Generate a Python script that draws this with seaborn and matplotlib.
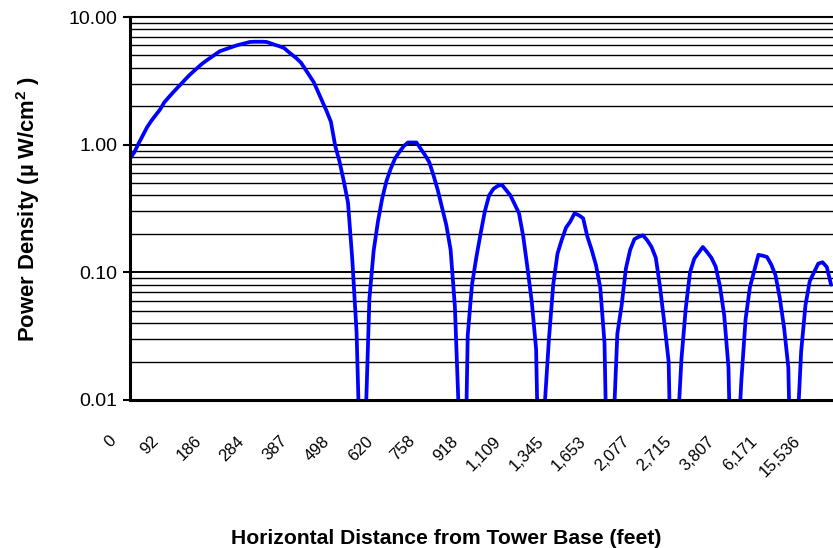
import seaborn as sns
import pandas as pd
import matplotlib.pyplot as plt
import matplotlib.transforms as mtransforms
from matplotlib.ticker import LogLocator, NullFormatter

# category axis: one label every 10 samples
distance_labels = ["0", "92", "186", "284", "387", "498", "620", "758", "918",
                   "1,109", "1,345", "1,653", "2,077", "2,715", "3,807",
                   "6,171", "15,536"]
label_step = 10

# power density (uW/cm2), one value per sample
power_density = [
    0.78, 0.87, 1.02, 1.18, 1.37, 1.54, 1.70, 1.88, 2.14, 2.34,
    2.55, 2.77, 3.00, 3.26, 3.53, 3.79, 4.06, 4.34, 4.59, 4.84,
    5.11, 5.39, 5.54, 5.69, 5.84, 6.00, 6.12, 6.24, 6.37, 6.40,
    6.40, 6.40, 6.37, 6.20, 6.04, 5.89, 5.73, 5.36, 5.03, 4.73,
    4.39, 3.90, 3.47, 3.08, 2.59, 2.18, 1.83, 1.51, 0.98, 0.74,
    0.52, 0.35, 0.126, 0.034, 0.002, 0.005, 0.062, 0.148, 0.25, 0.38,
    0.52, 0.65, 0.78, 0.875, 0.97, 1.04, 1.04, 1.04, 0.93, 0.83,
    0.73, 0.575, 0.44, 0.32, 0.234, 0.15, 0.054, 0.0065, 0.0004, 0.032,
    0.08, 0.13, 0.20, 0.30, 0.40, 0.45, 0.475, 0.485, 0.44, 0.40,
    0.34, 0.29, 0.19, 0.107, 0.058, 0.025, 0.0005, 0.009, 0.03, 0.08,
    0.14, 0.18, 0.224, 0.25, 0.29, 0.28, 0.265, 0.19, 0.15, 0.114,
    0.076, 0.028, 0.0005, 0.005, 0.033, 0.055, 0.107, 0.15, 0.182, 0.19,
    0.195, 0.178, 0.158, 0.13, 0.076, 0.04, 0.02, 0.0005, 0.005, 0.021,
    0.052, 0.10, 0.128, 0.142, 0.158, 0.144, 0.13, 0.111, 0.078, 0.046,
    0.018, 0.0005, 0.003, 0.014, 0.043, 0.076, 0.102, 0.137, 0.135, 0.132,
    0.115, 0.095, 0.063, 0.037, 0.018, 0.0005, 0.005, 0.024, 0.055, 0.085,
    0.10, 0.117, 0.12, 0.11, 0.08,
]

df = pd.DataFrame({"sample": range(len(power_density)), "power": power_density})

sns.set_style("white")
plt.rcParams['font.family'] = ['Liberation Sans', 'DejaVu Sans']
plt.rcParams['text.color'] = 'black'
plt.rcParams['xtick.color'] = 'black'
plt.rcParams['ytick.color'] = 'black'
plt.rcParams['mathtext.fontset'] = 'custom'
plt.rcParams['mathtext.bf'] = 'Liberation Sans:bold'
plt.rcParams['mathtext.rm'] = 'Liberation Sans:bold'

fig = plt.figure(figsize=(8.33, 5.48), dpi=100)
ax = fig.add_axes([130 / 833, 148 / 548, 703 / 833, 383 / 548])

sns.lineplot(data=df, x="sample", y="power", color="#0000FF", linewidth=2.7,
             estimator=None, ax=ax)
ax.set_yscale("log")
ax.set_ylim(0.01, 10)
ax.set_xlim(0, 164.45)

# gridlines at every log tick
ax.set_yticks([0.01, 0.1, 1, 10])
ax.set_yticklabels(["0.01", "0.10", "1.00", "10.00"], fontsize=14)
ax.yaxis.set_minor_locator(LogLocator(base=10, subs=range(2, 10)))
ax.yaxis.set_minor_formatter(NullFormatter())
ax.yaxis.grid(True, which="major", color="black", linewidth=1.4)
ax.yaxis.grid(True, which="minor", color="black", linewidth=1.0)
ax.set_axisbelow(True)
ax.tick_params(axis="y", which="major", length=5, width=1.5, color="black", left=True, pad=4)
ax.tick_params(axis="y", which="minor", length=0)

ax.set_xticks(range(0, len(distance_labels) * label_step, label_step))
ax.set_xticklabels(distance_labels, rotation=45, ha="right", va="top", fontsize=12)
ax.tick_params(axis="x", length=0, pad=24)
shift = mtransforms.ScaledTranslation(-11 / 100, 0, fig.dpi_scale_trans)
for lbl in ax.get_xticklabels():
    lbl.set_transform(lbl.get_transform() + shift)

for side in ["left", "bottom"]:
    ax.spines[side].set_color("black")
    ax.spines[side].set_linewidth(2.2)
ax.spines["top"].set_color("black")
ax.spines["top"].set_linewidth(1.5)
ax.spines["right"].set_visible(False)

ax.set_xlabel("")
ax.set_ylabel("")
fig.text(446 / 833, 10 / 548, "Horizontal Distance from Tower Base (feet)",
         ha="center", va="center", fontsize=15.2, fontweight="bold")
fig.text(28 / 833, 339 / 548, "Power Density (µ W/cm$^{\\mathbf{2}}$ )", rotation=90,
         ha="center", va="center", fontsize=15.8, fontweight="bold")

fig.savefig("out.png", dpi=100)
